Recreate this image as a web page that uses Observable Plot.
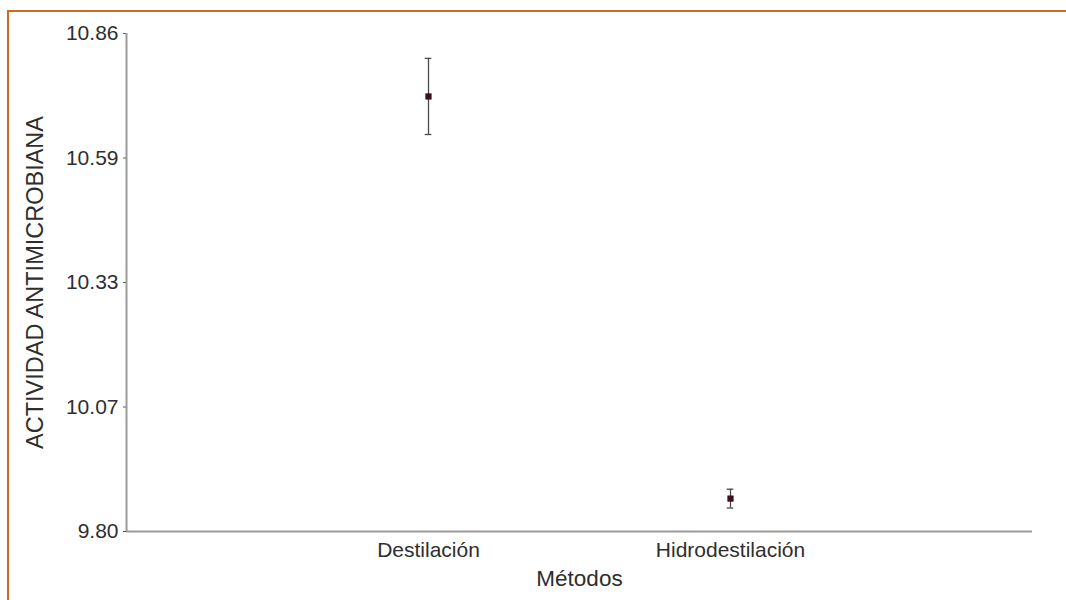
<!DOCTYPE html>
<html>
<head>
<meta charset="utf-8">
<script src="https://cdn.jsdelivr.net/npm/d3@7"></script>
<script src="https://cdn.jsdelivr.net/npm/@observablehq/plot@0.6"></script>
<style>
  html, body { margin: 0; padding: 0; background: #fff; }
  #chart { position: relative; width: 1066px; height: 600px; overflow: hidden; }
  #chart::before {
    content: ""; position: absolute; left: 7px; top: 10px; right: -10px; bottom: -10px;
    border-top: 2px solid #d2691e; border-left: 2px solid #d2691e; pointer-events: none;
  }
  #chart svg { display: block; }
</style>
</head>
<body>
<div id="chart"></div>
<script>
// Métodos de extracción y actividad antimicrobiana (media ± error)
const metodos = ["Destilación", "Hidrodestilación"];
const posiciones = [1, 2];
const medias = [10.726, 9.870];
const errores = [0.081, 0.020];
const yTicks = [9.80, 10.065, 10.33, 10.595, 10.86];
const yTickLabels = ["9.80", "10.07", "10.33", "10.59", "10.86"];
const tituloY = "ACTIVIDAD ANTIMICROBIANA";
const tituloX = "Métodos";

const data = metodos.map((m, i) => ({
  metodo: m, pos: posiciones[i], media: medias[i],
  lo: medias[i] - errores[i], hi: medias[i] + errores[i]
}));

const capHalf = 0.011;
const axisColor = "#9a9a9a";
const ink = "#2e2e2e";
const font = "'Liberation Sans', Arial, sans-serif";

const chart = Plot.plot({
  width: 1066,
  height: 600,
  marginLeft: 126,
  marginRight: 34,
  marginTop: 33,
  marginBottom: 69,
  style: { fontFamily: font, color: ink, background: "transparent" },
  x: { domain: [0, 3] },
  y: { domain: [9.80, 10.86] },
  marks: [
    Plot.axisY({
      ticks: yTicks,
      tickFormat: (d) => yTickLabels[yTicks.indexOf(d)],
      tickSize: 3,
      tickPadding: 5,
      stroke: "#555",
      fill: ink,
      fontSize: 21,
      label: null
    }),
    Plot.axisX({
      ticks: posiciones,
      tickFormat: (d) => metodos[posiciones.indexOf(d)],
      tickSize: 0,
      tickPadding: 11,
      fill: ink,
      fontSize: 21,
      label: null
    }),
    // títulos de los ejes
    Plot.text([tituloY], { frameAnchor: "left", dx: -91, rotate: -90, textAnchor: "middle", lineAnchor: "middle", fontSize: 23.5, fill: ink }),
    Plot.text([tituloX], { frameAnchor: "bottom", dy: 47, textAnchor: "middle", lineAnchor: "middle", fontSize: 22.5, fill: ink }),
    // líneas de los ejes
    Plot.ruleX([0], { y1: 9.80, y2: 10.86, stroke: axisColor, strokeWidth: 2 }),
    Plot.ruleY([9.80], { x1: 0, x2: 3, stroke: axisColor, strokeWidth: 2 }),
    // barras de error
    Plot.ruleX(data, { x: "pos", y1: "lo", y2: "hi", stroke: "#4a4a4a", strokeWidth: 1.3 }),
    Plot.ruleY(data, { y: "hi", x1: (d) => d.pos - capHalf, x2: (d) => d.pos + capHalf, stroke: "#4a4a4a", strokeWidth: 1.3 }),
    Plot.ruleY(data, { y: "lo", x1: (d) => d.pos - capHalf, x2: (d) => d.pos + capHalf, stroke: "#4a4a4a", strokeWidth: 1.3 }),
    // medias
    Plot.dot(data, { x: "pos", y: "media", symbol: "square", r: 3.2, fill: "#3d0f1f", stroke: "#3d0f1f", strokeWidth: 0.5 })
  ]
});

document.getElementById("chart").appendChild(chart);
</script>
</body>
</html>
